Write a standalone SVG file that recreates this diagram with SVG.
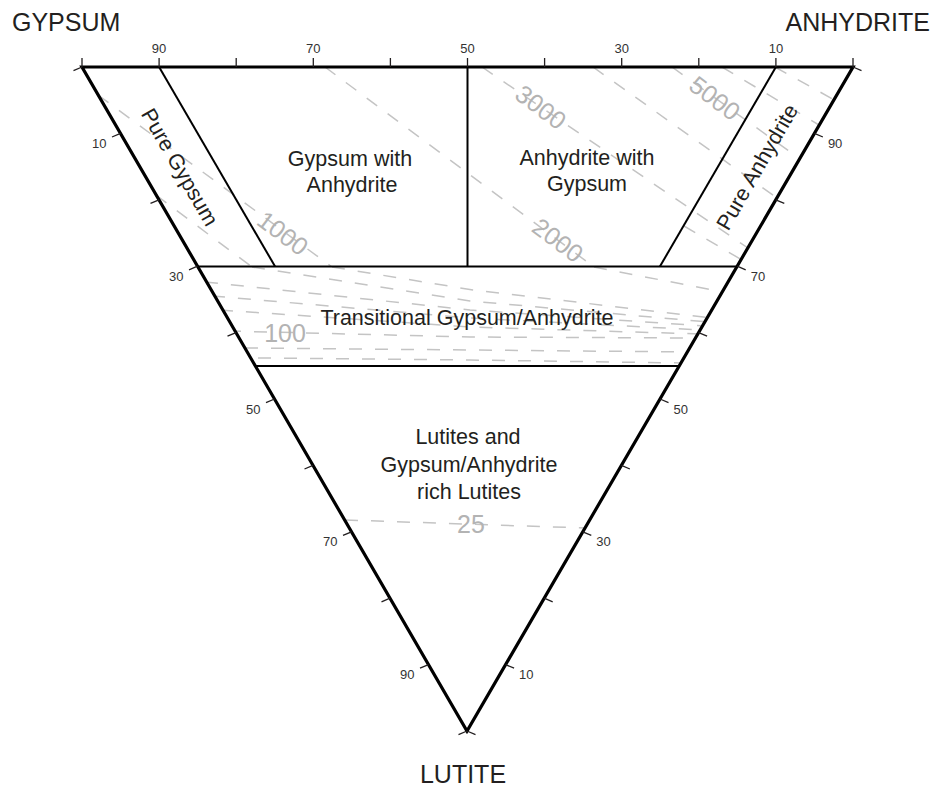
<svg xmlns="http://www.w3.org/2000/svg" width="945" height="791" viewBox="0 0 945 791">
<style>
.frame{fill:none;stroke:#000;stroke-width:3.2;stroke-linejoin:miter}
.inner{fill:none;stroke:#000;stroke-width:2}
.tick{fill:none;stroke:#231f20;stroke-width:1.3}
.iso{fill:none;stroke:#c4c4c4;stroke-width:1.5;stroke-dasharray:13 13}
.isolbl{font-family:"Liberation Sans",Arial,sans-serif;font-size:25px;fill:#b3b3b3;text-anchor:middle}
.ticklbl{font-family:"Liberation Sans",Arial,sans-serif;font-size:13px;fill:#333}
.axis{font-family:"Liberation Sans",Arial,sans-serif;font-size:25px;fill:#231f20}
.region{font-family:"Liberation Sans",Arial,sans-serif;font-size:21.5px;fill:#231f20;text-anchor:middle}
</style>
<defs>
<clipPath id="topClip"><polygon points="82,67 853,67 736.7,266.5 198,266.5"/></clipPath>
<clipPath id="bandClip"><polygon points="198,266.5 736.7,266.5 679.2,366 255.4,366"/></clipPath>
</defs>
<rect width="945" height="791" fill="#fff"/>

<g id="isolines">
<g clip-path="url(#topClip)">
<path class="iso" d="M98,95 L332,267"/>
<path class="iso" d="M156,195 L252,267"/>
<path class="iso" d="M325,67 L594,267"/>
<path class="iso" d="M482,67 L748,248"/>
<path class="iso" d="M593,67 L777,198"/>
<path class="iso" d="M672,67 L800,159"/>
<path class="iso" d="M722,67 L819,125"/>
<path class="iso" d="M775,67 L838,102"/>
<path class="iso" d="M684,226 L742,260"/>
</g>
<g clip-path="url(#bandClip)">
<path class="iso" d="M594,267 L728,293"/>
<path class="iso" d="M332,267 L473,290 L712,318"/>
<path class="iso" d="M252,267 L470,301 L708,322"/>
<path class="iso" d="M205,282 L470,310 L705,326"/>
<path class="iso" d="M212,296 L470,318 L703,330"/>
<path class="iso" d="M220,310 L470,327 L700,334"/>
<path class="iso" d="M228,331 L470,337 L698,338"/>
<path class="iso" d="M245,348 L470,350 L692,352"/>
<path class="iso" d="M258,358 L470,360 L684,363"/>
</g>
<path class="iso" d="M345,520 L585,528"/>
<text class="isolbl" transform="translate(283,233) rotate(37)" dy="0.36em">1000</text>
<text class="isolbl" transform="translate(558,240) rotate(37)" dy="0.36em">2000</text>
<text class="isolbl" transform="translate(541,107) rotate(37)" dy="0.36em">3000</text>
<text class="isolbl" transform="translate(715,98) rotate(37)" dy="0.36em">5000</text>
<text class="isolbl" x="285" y="333" dy="0.36em">100</text>
<text class="isolbl" x="471" y="524" dy="0.36em">25</text>
</g>

<g id="boundaries">
<path class="inner" d="M159.1,67 L275.1,266.5"/>
<path class="inner" d="M467.5,67 V266.5"/>
<path class="inner" d="M775.9,67 L659.9,266.5"/>
<path class="inner" d="M198,266.5 H736.7"/>
<path class="inner" d="M255.4,366 H679.2"/>
</g>

<g id="triangle">
<polygon class="frame" points="82,67 853,67 467,731"/>
</g>

<g id="ticks">
<path class="tick" d="M82,67V58 M159.1,67V58 M236.2,67V58 M313.3,67V58 M390.4,67V58 M467.5,67V58 M544.6,67V58 M621.7,67V58 M698.8,67V58 M775.9,67V58 M853,67V58"/>
<path class="tick" d="M82,67L73.5,70.6 M120.5,133.4L112,137 M159,199.8L150.5,203.4 M197.5,266.2L189,269.8 M236,332.6L227.5,336.2 M274.5,399L266,402.6 M313,465.4L304.5,469 M351.5,531.8L343,535.4 M390,598.2L381.5,601.8 M428.5,664.6L420,668.2 M467,731L458.5,734.6"/>
<path class="tick" d="M853,67L861.5,70.6 M814.4,133.4L822.9,137 M775.8,199.8L784.3,203.4 M737.2,266.2L745.7,269.8 M698.6,332.6L707.1,336.2 M660,399L668.5,402.6 M621.4,465.4L629.9,469 M582.8,531.8L591.3,535.4 M544.2,598.2L552.7,601.8 M505.6,664.6L514.1,668.2 M467,731L475.5,734.6"/>
</g>

<g id="tick-labels">
<g class="ticklbl" text-anchor="middle">
<text x="159.1" y="53">90</text>
<text x="313.3" y="53">70</text>
<text x="467.5" y="53">50</text>
<text x="621.7" y="53">30</text>
<text x="775.9" y="53">10</text>
</g>
<g class="ticklbl" text-anchor="end">
<text x="106.5" y="148">10</text>
<text x="183.5" y="280.7">30</text>
<text x="260.5" y="413.5">50</text>
<text x="337.5" y="546.3">70</text>
<text x="414.5" y="679">90</text>
</g>
<g class="ticklbl" text-anchor="start">
<text x="827.9" y="148">90</text>
<text x="750.7" y="280.7">70</text>
<text x="673.5" y="413.5">50</text>
<text x="596.3" y="546.3">30</text>
<text x="519.1" y="679">10</text>
</g>
</g>

<g id="vertex-gypsum"><text class="axis" x="12" y="31">GYPSUM</text></g>
<g id="vertex-anhydrite"><text class="axis" x="930" y="31" text-anchor="end">ANHYDRITE</text></g>
<g id="vertex-lutite"><text class="axis" x="463" y="783" text-anchor="middle">LUTITE</text></g>

<g id="region-pure-gypsum"><text class="region" transform="translate(180,167) rotate(60)" dy="0.35em">Pure Gypsum</text></g>
<g id="region-gypsum-with-anhydrite"><text class="region" x="350" y="166">Gypsum with</text><text class="region" x="352" y="191.5">Anhydrite</text></g>
<g id="region-anhydrite-with-gypsum"><text class="region" x="587" y="165">Anhydrite with</text><text class="region" x="587" y="191">Gypsum</text></g>
<g id="region-pure-anhydrite"><text class="region" transform="translate(757,167) rotate(-60)" dy="0.35em">Pure Anhydrite</text></g>
<g id="region-transitional"><text class="region" x="467" y="325">Transitional Gypsum/Anhydrite</text></g>
<g id="region-lutites"><text class="region" x="468" y="444">Lutites and</text><text class="region" x="469" y="471.5">Gypsum/Anhydrite</text><text class="region" x="469" y="499">rich Lutites</text></g>
</svg>
